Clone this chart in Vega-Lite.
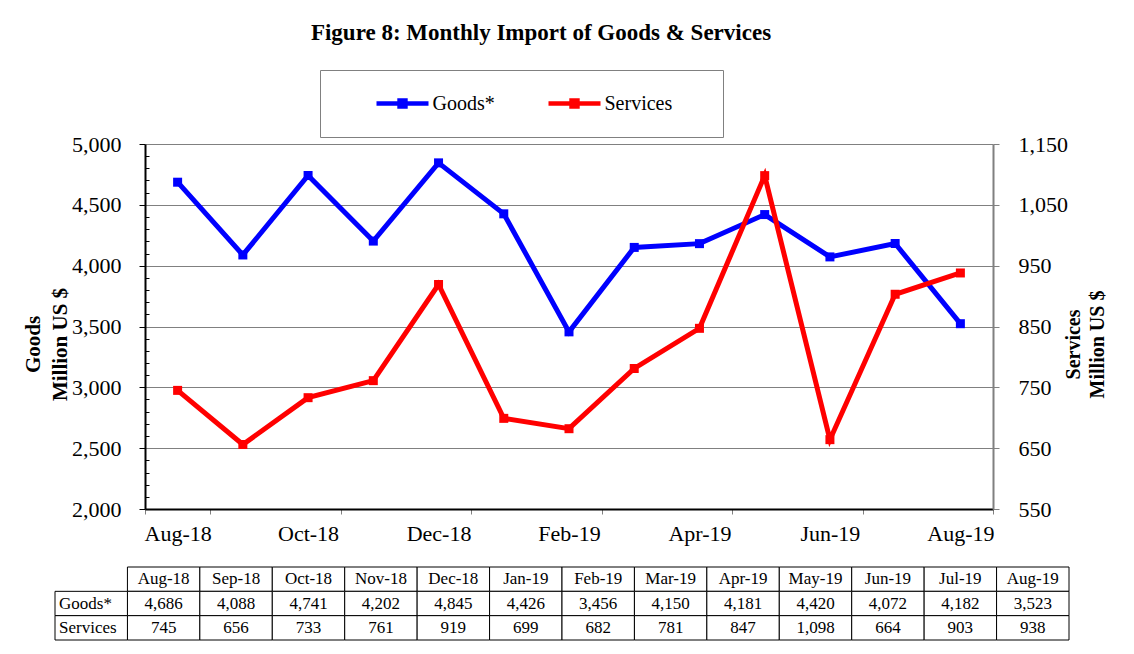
{
  "$schema": "https://vega.github.io/schema/vega-lite/v6.json",
  "width": 848,
  "height": 365,
  "autosize": {"type": "none"},
  "padding": {"left": 145, "top": 144, "right": 141, "bottom": 145},
  "background": "white",
  "config": {
    "font": "Liberation Serif, Times New Roman, serif",
    "view": {"stroke": null},
    "axis": {"labelFont": "Liberation Serif, Times New Roman, serif", "titleFont": "Liberation Serif, Times New Roman, serif"},
    "legend": {"labelFont": "Liberation Serif, Times New Roman, serif", "titleFont": "Liberation Serif, Times New Roman, serif"},
    "text": {"font": "Liberation Serif, Times New Roman, serif"}
  },
  "title": {
    "text": "Figure 8: Monthly Import of Goods & Services",
    "font": "Liberation Serif, Times New Roman, serif",
    "fontSize": 23,
    "fontWeight": "bold",
    "color": "black",
    "anchor": "middle",
    "frame": "group",
    "dx": -28,
    "offset": 25
  },
  "datasets": {
    "trade": [
      {"month": "Aug-18", "goods": 4686, "services": 745},
      {"month": "Sep-18", "goods": 4088, "services": 656},
      {"month": "Oct-18", "goods": 4741, "services": 733},
      {"month": "Nov-18", "goods": 4202, "services": 761},
      {"month": "Dec-18", "goods": 4845, "services": 919},
      {"month": "Jan-19", "goods": 4426, "services": 699},
      {"month": "Feb-19", "goods": 3456, "services": 682},
      {"month": "Mar-19", "goods": 4150, "services": 781},
      {"month": "Apr-19", "goods": 4181, "services": 847},
      {"month": "May-19", "goods": 4420, "services": 1098},
      {"month": "Jun-19", "goods": 4072, "services": 664},
      {"month": "Jul-19", "goods": 4182, "services": 903},
      {"month": "Aug-19", "goods": 3523, "services": 938}
    ],
    "rows": [
      {"key": "goods", "label": "Goods*"},
      {"key": "services", "label": "Services"}
    ]
  },
  "data": {"name": "trade"},
  "layer": [
    {
      "encoding": {
        "x": {
          "field": "month",
          "type": "ordinal",
          "sort": null,
          "bandPosition": 0.5,
          "scale": {"type": "band", "paddingInner": 0, "paddingOuter": 0},
          "axis": {
            "values": ["Aug-18", "Oct-18", "Dec-18", "Feb-19", "Apr-19", "Jun-19", "Aug-19"],
            "tickBand": "extent",
            "title": null,
            "labelAngle": 0,
            "labelFontSize": 22,
            "labelColor": "black",
            "labelPadding": 9,
            "tickSize": 5,
            "tickColor": "#808080",
            "domainColor": "black",
            "domainWidth": 2,
            "grid": false
          }
        }
      },
      "layer": [
        {
          "encoding": {
            "y": {
              "field": "goods",
              "type": "quantitative",
              "scale": {"domain": [2000, 5000], "nice": false, "zero": false},
              "axis": {
                "orient": "left",
                "values": [2000, 2100, 2200, 2300, 2400, 2500, 2600, 2700, 2800, 2900, 3000, 3100, 3200, 3300, 3400, 3500, 3600, 3700, 3800, 3900, 4000, 4100, 4200, 4300, 4400, 4500, 4600, 4700, 4800, 4900, 5000],
                "labelExpr": "datum.value % 500 === 0 ? format(datum.value, ',') : ''",
                "grid": true,
                "gridColor": "#808080",
                "gridWidth": 1,
                "gridOpacity": {"condition": {"test": "datum.value % 500 === 0", "value": 1}, "value": 0},
                "tickSize": {"condition": {"test": "datum.value % 500 === 0", "value": 6}, "value": -4},
                "tickColor": "black",
                "domainColor": "black",
                "domainWidth": 2,
                "labelFontSize": 22,
                "labelColor": "black",
                "labelPadding": 18,
                "title": ["Goods", "Million US $"],
                "titleFontSize": 21,
                "titleFontWeight": "bold",
                "titleColor": "black",
                "titleAngle": -90,
                "titleX": -112,
                "titleY": 200,
                "titleAlign": "center",
                "titleBaseline": "middle",
                "titleLineHeight": 27
              }
            }
          },
          "layer": [
            {"mark": {"type": "line", "color": "#0000FF", "strokeWidth": 5}},
            {
              "mark": {"type": "point", "shape": "square", "filled": true, "size": 81, "opacity": 1},
              "encoding": {
                "color": {
                  "datum": "Goods*",
                  "scale": {"domain": ["Goods*", "Services"], "range": ["#0000FF", "#FF0000"]},
                  "legend": {
                    "orient": "none",
                    "legendX": 175,
                    "legendY": -74,
                    "direction": "horizontal",
                    "title": ".",
                    "titleOrient": "right",
                    "titleFontSize": 1,
                    "titleOpacity": 0,
                    "titlePadding": 42,
                    "symbolType": "M0,-1Z M-1,-0.09H1V0.09H-1Z M-0.2,-0.2H0.2V0.2H-0.2Z M0,1Z",
                    "symbolSize": 2704,
                    "symbolStrokeWidth": 0,
                    "symbolOpacity": 1,
                    "symbolOffset": 49,
                    "labelFont": "Liberation Serif, Times New Roman, serif",
                    "labelFontSize": 20,
                    "labelColor": "black",
                    "labelOffset": 4,
                    "labelLimit": 200,
                    "columnPadding": 4,
                    "padding": 7.5,
                    "strokeColor": "#808080",
                    "fillColor": "white"
                  }
                }
              }
            }
          ]
        },
        {
          "encoding": {
            "y": {
              "field": "services",
              "type": "quantitative",
              "scale": {"domain": [550, 1150], "nice": false, "zero": false},
              "axis": {
                "orient": "right",
                "values": [550, 650, 750, 850, 950, 1050, 1150],
                "labelExpr": "format(datum.value, ',')",
                "grid": false,
                "tickSize": 6,
                "tickColor": "#808080",
                "domainColor": "#808080",
                "domainWidth": 2,
                "labelFontSize": 22,
                "labelColor": "black",
                "labelPadding": 19,
                "title": ["Services", "Million US $"],
                "titleFontSize": 20,
                "titleFontWeight": "bold",
                "titleColor": "black",
                "titleAngle": -90,
                "titleX": 80,
                "titleY": 200,
                "titleAlign": "center",
                "titleBaseline": "middle",
                "titleLineHeight": 24
              }
            }
          },
          "layer": [
            {"mark": {"type": "line", "color": "#FF0000", "strokeWidth": 5}},
            {
              "mark": {"type": "point", "shape": "square", "filled": true, "size": 81, "opacity": 1},
              "encoding": {"color": {"datum": "Services"}}
            }
          ]
        }
      ],
      "resolve": {"scale": {"y": "independent"}}
    },
    {
      "layer": [
        {
          "mark": {"type": "rect", "fill": "white", "stroke": "black", "strokeWidth": 1},
          "encoding": {
            "x": {"field": "month", "type": "ordinal", "scale": {"type": "band", "domain": ["row", "Aug-18", "Sep-18", "Oct-18", "Nov-18", "Dec-18", "Jan-19", "Feb-19", "Mar-19", "Apr-19", "May-19", "Jun-19", "Jul-19", "Aug-19"], "range": [-90, 924], "paddingInner": 0, "paddingOuter": 0}, "axis": null},
            "y": {"datum": "hdr", "type": "ordinal", "scale": {"type": "band", "domain": ["hdr", "goods", "services"], "range": [423, 496], "paddingInner": 0, "paddingOuter": 0}, "axis": null}
          }
        },
        {
          "mark": {"type": "text", "font": "Liberation Serif, Times New Roman, serif", "fontSize": 17, "color": "black", "baseline": "middle", "align": "center"},
          "encoding": {
            "x": {"field": "month", "type": "ordinal", "bandPosition": 0.5},
            "y": {"datum": "hdr", "type": "ordinal", "bandPosition": 0.5},
            "text": {"field": "month"}
          }
        },
        {
          "transform": [{"fold": ["goods", "services"], "as": ["key", "value"]}],
          "layer": [
            {
              "mark": {"type": "rect", "fill": "white", "stroke": "black", "strokeWidth": 1},
              "encoding": {
                "x": {"field": "month", "type": "ordinal"},
                "y": {"field": "key", "type": "ordinal"}
              }
            },
            {
              "mark": {"type": "text", "font": "Liberation Serif, Times New Roman, serif", "fontSize": 17, "color": "black", "baseline": "middle", "align": "center"},
              "encoding": {
                "x": {"field": "month", "type": "ordinal", "bandPosition": 0.5},
                "y": {"field": "key", "type": "ordinal", "bandPosition": 0.5},
                "text": {"field": "value", "type": "quantitative", "format": ","}
              }
            }
          ]
        },
        {
          "data": {"name": "rows"},
          "layer": [
            {
              "mark": {"type": "rect", "fill": "white", "stroke": "black", "strokeWidth": 1},
              "encoding": {
                "x": {"datum": "row", "type": "ordinal"},
                "y": {"field": "key", "type": "ordinal"}
              }
            },
            {
              "mark": {"type": "text", "font": "Liberation Serif, Times New Roman, serif", "fontSize": 17, "color": "black", "baseline": "middle", "align": "left", "dx": 4},
              "encoding": {
                "x": {"datum": "row", "type": "ordinal", "bandPosition": 0},
                "y": {"field": "key", "type": "ordinal", "bandPosition": 0.5},
                "text": {"field": "label"}
              }
            }
          ]
        }
      ]
    }
  ],
  "resolve": {"scale": {"x": "independent", "y": "independent"}}
}
